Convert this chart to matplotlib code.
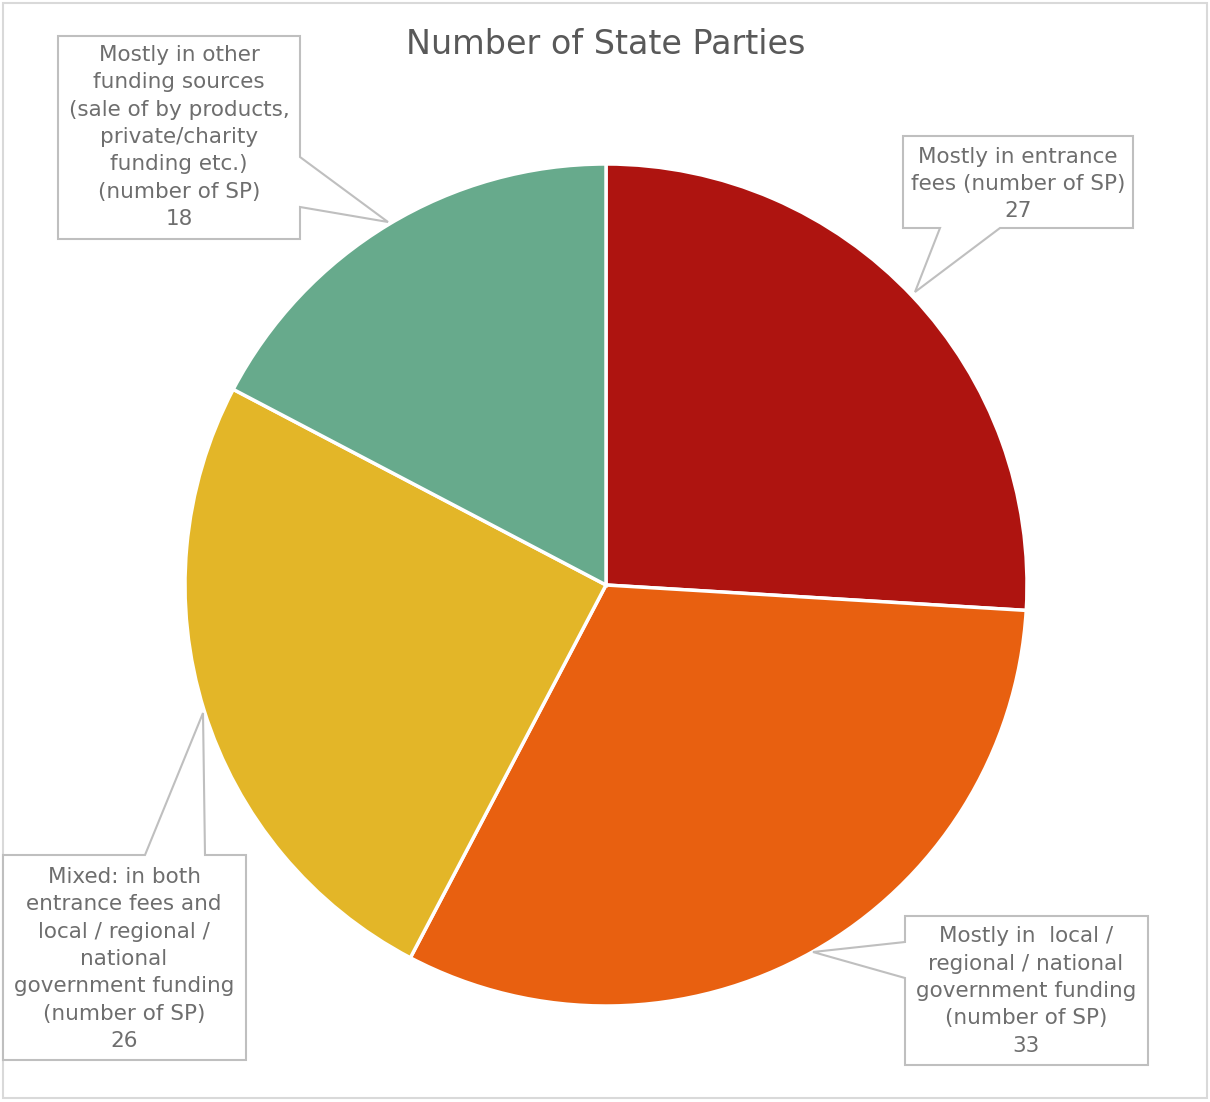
import matplotlib.pyplot as plt
from matplotlib.patches import Polygon, Rectangle

# data
labels = ["Mostly in entrance\nfees (number of SP)\n27",
          "Mostly in  local /\nregional / national\ngovernment funding\n(number of SP)\n33",
          "Mixed: in both\nentrance fees and\nlocal / regional /\nnational\ngovernment funding\n(number of SP)\n26",
          "Mostly in other\nfunding sources\n(sale of by products,\nprivate/charity\nfunding etc.)\n(number of SP)\n18"]
values = [27, 33, 26, 18]
colors = ["#AE1410", "#E86010", "#E3B628", "#67AA8C"]

W, H = 1210, 1102
fig = plt.figure(figsize=(W / 100, H / 100), dpi=100)
ax = fig.add_axes([0, 0, 1, 1])

def Y(y):
    return H - y

ax.pie(values, colors=colors, startangle=90, counterclock=False,
       center=(606, Y(585)), radius=421,
       wedgeprops=dict(edgecolor="white", linewidth=2.5))
ax.set_xlim(0, W)
ax.set_ylim(0, H)
ax.set_aspect("equal")
ax.axis("off")

# outer frame
ax.add_patch(Rectangle((3, Y(1098)), 1204, 1095, fill=False,
                       edgecolor="#D9D9D9", linewidth=1.5))

ax.text(606, Y(45), "Number of State Parties", ha="center", va="center",
        fontsize=24, color="#595959")

# callout boxes: (box polygon in pixels, text center)
callouts = [
    ([(903, 136), (1133, 136), (1133, 228), (1000, 228), (915, 292),
      (940, 228), (903, 228)], (1018, 184)),
    ([(905, 916), (1148, 916), (1148, 1065), (905, 1065), (905, 978),
      (813, 952), (905, 942)], (1026, 991)),
    ([(3, 855), (145, 855), (203, 713), (205, 855), (246, 855),
      (246, 1060), (3, 1060)], (124, 959)),
    ([(58, 36), (300, 36), (300, 157), (388, 222), (300, 207),
      (300, 239), (58, 239)], (179, 137)),
]

for lab, (pts, (cx, cy)) in zip(labels, callouts):
    ax.add_patch(Polygon([(x, Y(y)) for x, y in pts], closed=True,
                         facecolor="white", edgecolor="#BFBFBF", linewidth=1.5))
    ax.text(cx, Y(cy), lab, ha="center", va="center", fontsize=15.5,
            color="#6E6E6E", linespacing=1.46)

plt.savefig("out.png", dpi=100)
